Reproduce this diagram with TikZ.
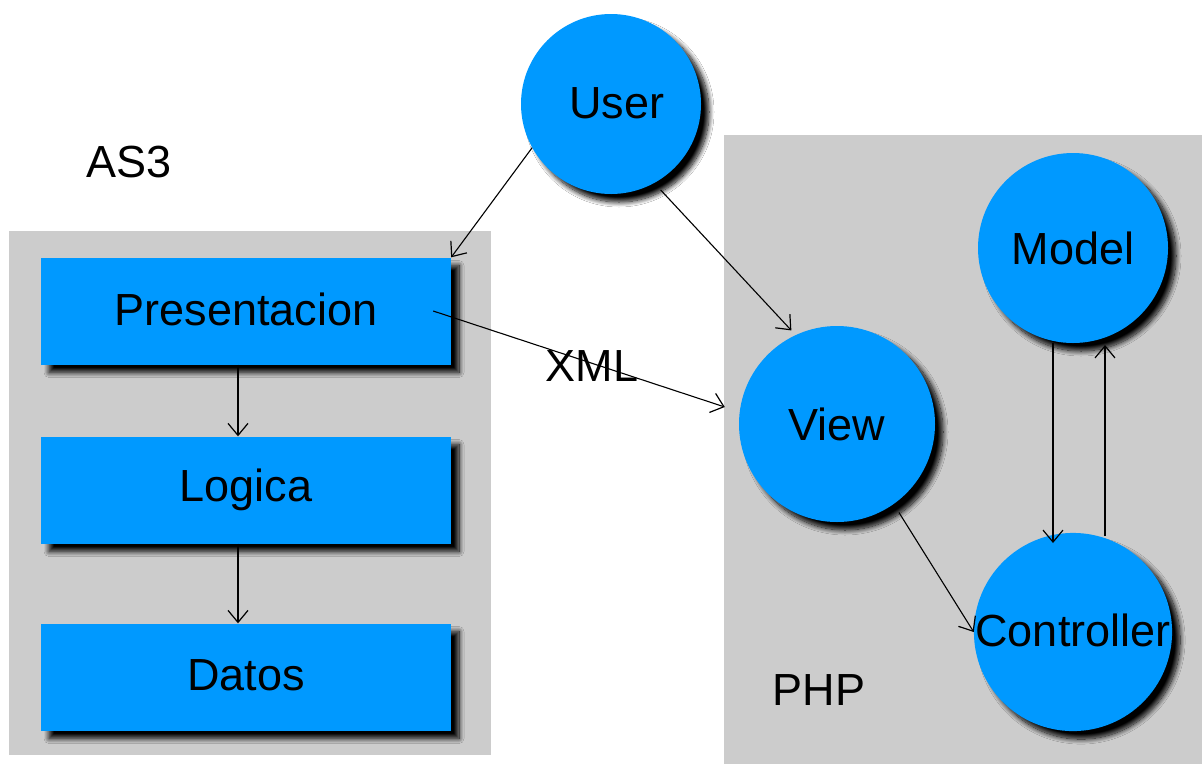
\documentclass[tikz,border=0pt]{standalone}
\usepackage{fontspec}
\setmainfont{Liberation Sans}
\usetikzlibrary{shadows.blur,arrows.meta,calc}
\definecolor{boxblue}{RGB}{0,153,255}
\definecolor{panelgray}{RGB}{204,204,204}
\begin{document}
\begin{tikzpicture}[x=1pt,y=-1pt,
  panel/.style={draw=none,fill=panelgray,rectangle,inner sep=0pt},
  shade3d/.style={blur shadow={shadow xshift=8pt,shadow yshift=-8pt,shadow blur radius=5pt,shadow opacity=100,shadow blur steps=12}},
  layerbox/.style={rectangle,fill=boxblue,draw=none,minimum width=410pt,minimum height=107pt,inner sep=0pt,shade3d,
    font=\fontsize{45}{54}\selectfont},
  actor/.style={circle,fill=boxblue,draw=none,inner sep=0pt,shade3d,font=\fontsize{45}{54}\selectfont},
  caption/.style={font=\fontsize{45}{54}\selectfont,inner sep=0pt},
  link/.style={-{Straight Barb[length=12pt,width=20pt,line width=1.2pt]},line width=1.1pt,black}]
\useasboundingbox (0,0) rectangle (1202,764);
\fill[white] (0,0) rectangle (1202,764);

% grey panels
\node[panel,minimum width=482pt,minimum height=524pt] (as3) at (250,493) {};
\node[panel,minimum width=478pt,minimum height=629pt] (php) at (963,449.5) {};

% panel captions
\node[caption] (as3label) at (129,162) {AS3};
\node[caption] (phplabel) at (819,690) {PHP};

% AS3 layers
\node[layerbox] (pres) at (246,311) {\raisebox{4pt}{Presentacion}};
\node[layerbox] (logica) at (246,490) {\raisebox{3pt}{Logica}};
\node[layerbox] (datos) at (246,677) {\raisebox{4pt}{Datos}};

% actors
\node[actor,minimum size=180pt] (user) at (611,104) {\hspace*{12pt}\raisebox{2pt}{User}};
\node[actor,minimum size=190pt] (model) at (1073,248) {Model};
\node[actor,minimum size=196pt] (view) at (837,424) {View};
\node[actor,minimum size=196pt] (controller) at (1073,632) {\raisebox{3pt}{Controller}};

% connectors
\draw[link] (user.209) -- (pres.north east);
\draw[link] ($(user)!1.1!(user.-60)$) -- ($(view)!1.06!(view.116)$);
\draw[link] ([xshift=-18pt]pres.east) -- ($(view.west)+(-14,-17)$);
\draw[link] (pres.south -| 238,0) -- (logica.north -| 238,0);
\draw[link] (logica.south -| 238,0) -- (datos.north -| 238,0);
\draw[link] ($(view)!1.1!(view.-55)$) -- (controller.west);
\draw[link] ([xshift=-20pt]model.south) -- ($(controller.center)+(-20,-89)$);
\draw[link] ($(controller.center)+(32,-96)$) -- ($(model.center)+(32,97)$);

\node[caption] (xml) at (592,366) {XML};
\end{tikzpicture}
\end{document}
